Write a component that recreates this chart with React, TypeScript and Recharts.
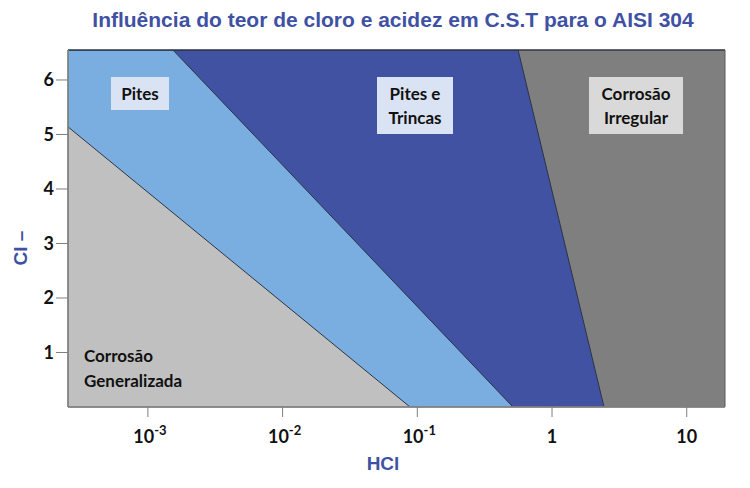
import {
  Area,
  ComposedChart,
  ReferenceLine,
  XAxis,
  YAxis,
} from 'recharts'

// HCl concentration (log axis) and Cl- level
const xMin = Math.pow(10, -3.593)
const xMax = Math.pow(10, 1.284)
const yMax = 6.55

const xTicks = [0.001, 0.01, 0.1, 1, 10]
const xTickLabels = [
  ['10', '-3'],
  ['10', '-2'],
  ['10', '-1'],
  ['1', ''],
  ['10', ''],
]
const yTicks = [1, 2, 3, 4, 5, 6]

// region boundaries, each region filled below its boundary
const irregularZone = [
  { x: xMin, y: yMax },
  { x: xMax, y: yMax },
]
const pitsCracksZone = [
  { x: xMin, y: yMax },
  { x: Math.pow(10, -0.252), y: yMax },
  { x: Math.pow(10, 0.386), y: 0 },
]
const pitsZone = [
  { x: xMin, y: yMax },
  { x: Math.pow(10, -2.814), y: yMax },
  { x: Math.pow(10, -0.29), y: 0 },
]
const generalZone = [
  { x: xMin, y: 5.14 },
  { x: Math.pow(10, -1.054), y: 0 },
]

const blue = '#3f51a3'
const tickFont = 'Lato, "Open Sans", sans-serif'

function XTick(props: any) {
  const { x, y, index } = props
  const [base, exp] = xTickLabels[index] ?? ['', '']
  return (
    <text x={x + (exp ? 2 : 0)} y={y + 24} textAnchor="middle" fontFamily={tickFont} fontWeight={700} fontSize={18} fill="#111">
      <tspan>{base}</tspan>
      {exp && (
        <tspan dy={-8} fontSize={13}>
          {exp}
        </tspan>
      )}
    </text>
  )
}

const boxStyle = {
  position: 'absolute' as const,
  fontFamily: tickFont,
  fontWeight: 700,
  fontSize: 17,
  lineHeight: '24px',
  color: '#111',
  textAlign: 'center' as const,
  display: 'flex',
  alignItems: 'center',
  justifyContent: 'center',
}

export default function App() {
  return (
    <div style={{ position: 'absolute', left: 0, top: 0, width: 750, height: 488, background: '#fff' }}>
      <ComposedChart
        width={750}
        height={488}
        margin={{ top: 50, right: 25, left: 18, bottom: 41 }}
      >
        <XAxis
          dataKey="x"
          type="number"
          scale="log"
          domain={[xMin, xMax]}
          allowDataOverflow
          ticks={xTicks}
          tick={<XTick />}
          tickSize={10}
          height={40}
          stroke="#7f7f7f"
          tickLine={{ stroke: '#7f7f7f' }}
        />
        <YAxis
          dataKey="y"
          type="number"
          domain={[0, yMax]}
          allowDataOverflow
          ticks={yTicks}
          tickSize={12}
          width={50}
          stroke="#7f7f7f"
          tick={{ fill: '#111', fontFamily: tickFont, fontWeight: 700, fontSize: 18 }}
        />
        <Area
          data={irregularZone}
          dataKey="y"
          type="linear"
          fill="#7f7f7f"
          fillOpacity={1}
          stroke="none"
          isAnimationActive={false}
        />
        <Area
          data={pitsCracksZone}
          dataKey="y"
          type="linear"
          fill="#4152a3"
          fillOpacity={1}
          stroke="#2b3445"
          strokeWidth={1}
          isAnimationActive={false}
        />
        <Area
          data={pitsZone}
          dataKey="y"
          type="linear"
          fill="#7aaee0"
          fillOpacity={1}
          stroke="#2b3445"
          strokeWidth={1}
          isAnimationActive={false}
        />
        <Area
          data={generalZone}
          dataKey="y"
          type="linear"
          fill="#c0c0c0"
          fillOpacity={1}
          stroke="#2b3445"
          strokeWidth={1}
          isAnimationActive={false}
        />
        <ReferenceLine y={yMax} stroke="#2b3445" strokeWidth={1.5} />
        <ReferenceLine x={xMax} stroke="#5a5a5a" strokeWidth={1} />
        <ReferenceLine y={0} stroke="#7f7f7f" strokeWidth={1.5} />
        <ReferenceLine x={xMin} stroke="#7f7f7f" strokeWidth={1.5} />
      </ComposedChart>

      <div
        style={{
          position: 'absolute',
          left: 0,
          width: 750,
          top: 8,
          textAlign: 'center',
          fontFamily: '"Liberation Sans Narrow", "Liberation Sans", Arial, sans-serif',
          fontWeight: 700,
          fontSize: 21,
          color: blue,
          paddingLeft: 36,
          boxSizing: 'border-box',
        }}
      >
        Influência do teor de cloro e acidez em C.S.T para o AISI 304
      </div>

      <div
        style={{
          position: 'absolute',
          left: 6,
          top: 233,
          width: 30,
          height: 30,
          transform: 'rotate(-90deg)',
          fontFamily: '"Liberation Sans", Arial, sans-serif',
          fontWeight: 700,
          fontSize: 19,
          color: blue,
          whiteSpace: 'nowrap',
          display: 'flex',
          alignItems: 'center',
          justifyContent: 'center',
        }}
      >
        Cl –
      </div>

      <div
        style={{
          position: 'absolute',
          left: 333,
          width: 100,
          top: 453,
          textAlign: 'center',
          fontFamily: '"Liberation Sans", Arial, sans-serif',
          fontWeight: 700,
          fontSize: 19,
          color: blue,
        }}
      >
        HCl
      </div>

      <div style={{ ...boxStyle, left: 111, top: 77, width: 58, height: 33, background: '#dae3f3' }}>Pites</div>
      <div style={{ ...boxStyle, left: 377, top: 77, width: 76, height: 57, background: '#dae3f3' }}>
        Pites e<br />Trincas
      </div>
      <div style={{ ...boxStyle, left: 589, top: 77, width: 94, height: 57, background: '#d9d9d9' }}>
        Corrosão<br />Irregular
      </div>
      <div
        style={{
          position: 'absolute',
          left: 84,
          top: 343,
          fontFamily: tickFont,
          fontWeight: 700,
          fontSize: 17,
          lineHeight: '25px',
          color: '#111',
        }}
      >
        Corrosão
        <br />
        Generalizada
      </div>
    </div>
  )
}
